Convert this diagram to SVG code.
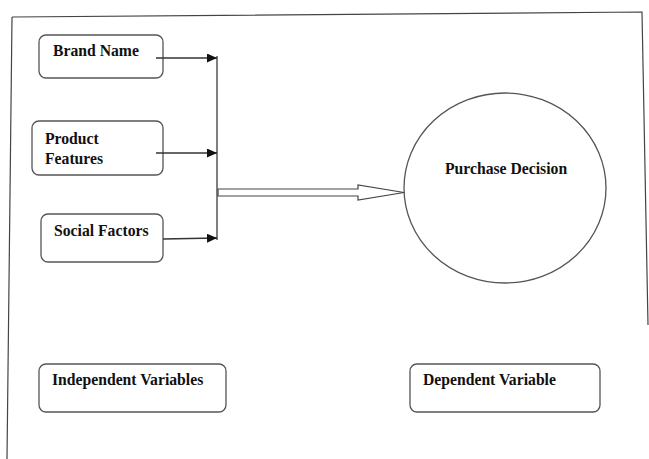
<svg xmlns="http://www.w3.org/2000/svg" width="649" height="459" viewBox="0 0 649 459">
  <style>
    .box { fill: #ffffff; stroke: #555555; stroke-width: 1.3; }
    .frame { fill: none; stroke: #444444; stroke-width: 1.2; }
    .lbl { font-family: "Liberation Serif", "Times New Roman", serif; font-weight: bold; font-size: 15.7px; fill: #111111; }
    .wire { fill: none; stroke: #333333; stroke-width: 1.3; }
    .bus { fill: none; stroke: #555555; stroke-width: 1.5; }
  </style>
  <defs>
    <marker id="tri" viewBox="0 0 10 10" refX="10" refY="5" markerWidth="10" markerHeight="9" markerUnits="userSpaceOnUse" orient="auto" preserveAspectRatio="none">
      <path d="M0,0 L10,5 L0,10 Z" fill="#111111"/>
    </marker>
  </defs>

  <!-- outer frame -->
  <g id="frame">
    <path class="frame" d="M12,17 L642,12 L648,325"/>
    <path class="frame" d="M12,17 L7,459"/>
  </g>

  <g id="brand-name">
    <rect class="box" x="39" y="35" width="124" height="43" rx="7"/>
    <text class="lbl" x="53" y="56">Brand Name</text>
  </g>

  <g id="product-features">
    <rect class="box" x="32" y="121" width="131" height="54" rx="7"/>
    <text class="lbl" x="45" y="144">Product</text>
    <text class="lbl" x="45" y="164">Features</text>
  </g>

  <g id="social-factors">
    <rect class="box" x="41" y="214" width="122" height="48" rx="7"/>
    <text class="lbl" x="54" y="236">Social Factors</text>
  </g>

  <g id="purchase-decision">
    <ellipse class="box" cx="505" cy="188" rx="101" ry="95"/>
    <text class="lbl" x="445" y="174">Purchase Decision</text>
  </g>

  <g id="independent-variables">
    <rect class="box" x="39" y="364" width="187" height="48" rx="7"/>
    <text class="lbl" x="52" y="385">Independent Variables</text>
  </g>

  <g id="dependent-variable">
    <rect class="box" x="410" y="364" width="190" height="48" rx="7"/>
    <text class="lbl" x="423" y="385">Dependent Variable</text>
  </g>

  <g id="connectors">
    <line class="bus" x1="217" y1="56" x2="217" y2="240"/>
    <line class="wire" x1="156" y1="58" x2="217" y2="58" marker-end="url(#tri)"/>
    <line class="wire" x1="156" y1="153" x2="217" y2="153" marker-end="url(#tri)"/>
    <line class="wire" x1="163" y1="239" x2="217" y2="238" marker-end="url(#tri)"/>
    <!-- hollow block arrow into the circle -->
    <path d="M218,189 L358,189 L358,185 L404,192.5 L358,200 L358,196 L218,196 Z" fill="#ffffff" stroke="#444444" stroke-width="1.2"/>
  </g>
</svg>
